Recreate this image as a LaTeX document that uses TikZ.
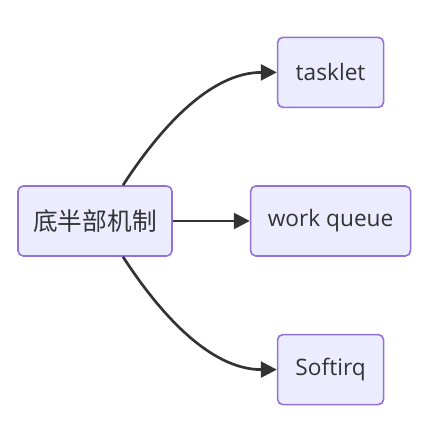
\documentclass[tikz,border=0pt]{standalone}
\usepackage{fontspec}
\setmainfont{Open Sans}
\newfontfamily\cjk{Noto Sans CJK SC}
\usepackage{xcolor}
\usetikzlibrary{arrows.meta, positioning}
\definecolor{boxfill}{HTML}{ECECFF}
\definecolor{boxline}{HTML}{9370DB}
\definecolor{edgeline}{HTML}{333333}

\begin{document}
\begin{tikzpicture}[
  node distance=57.75pt,
  every node/.style={draw=boxline, fill=boxfill, line width=1.2pt, rounded corners=4pt,
    minimum height=52.5pt, font=\fontsize{17pt}{20pt}\selectfont, text=edgeline, align=center},
  arrow/.style={-{Triangle[length=12pt, width=12pt]}, line width=2pt, edgeline},
]
  \useasboundingbox (-71.25pt,-151.5pt) rectangle (249pt,165.75pt);

  % Nodes
  \node (B) [minimum width=115.5pt] {\cjk\fontsize{18.5pt}{20pt}\selectfont 底半部机制};
  \node (W) [minimum width=120pt, right=of B] {work queue};
  \node (T) [minimum width=79.5pt, above=of W] {tasklet};
  \node (S) [minimum width=79.5pt, below=of W] {Softirq};

  % Edges
  \draw[arrow] ([xshift=21pt]B.north) to[out=57, in=180, looseness=0.9] (T.west);
  \draw[arrow] (B) -- (W);
  \draw[arrow] ([xshift=21pt]B.south) to[out=-57, in=180, looseness=0.9] (S.west);

\end{tikzpicture}
\end{document}
